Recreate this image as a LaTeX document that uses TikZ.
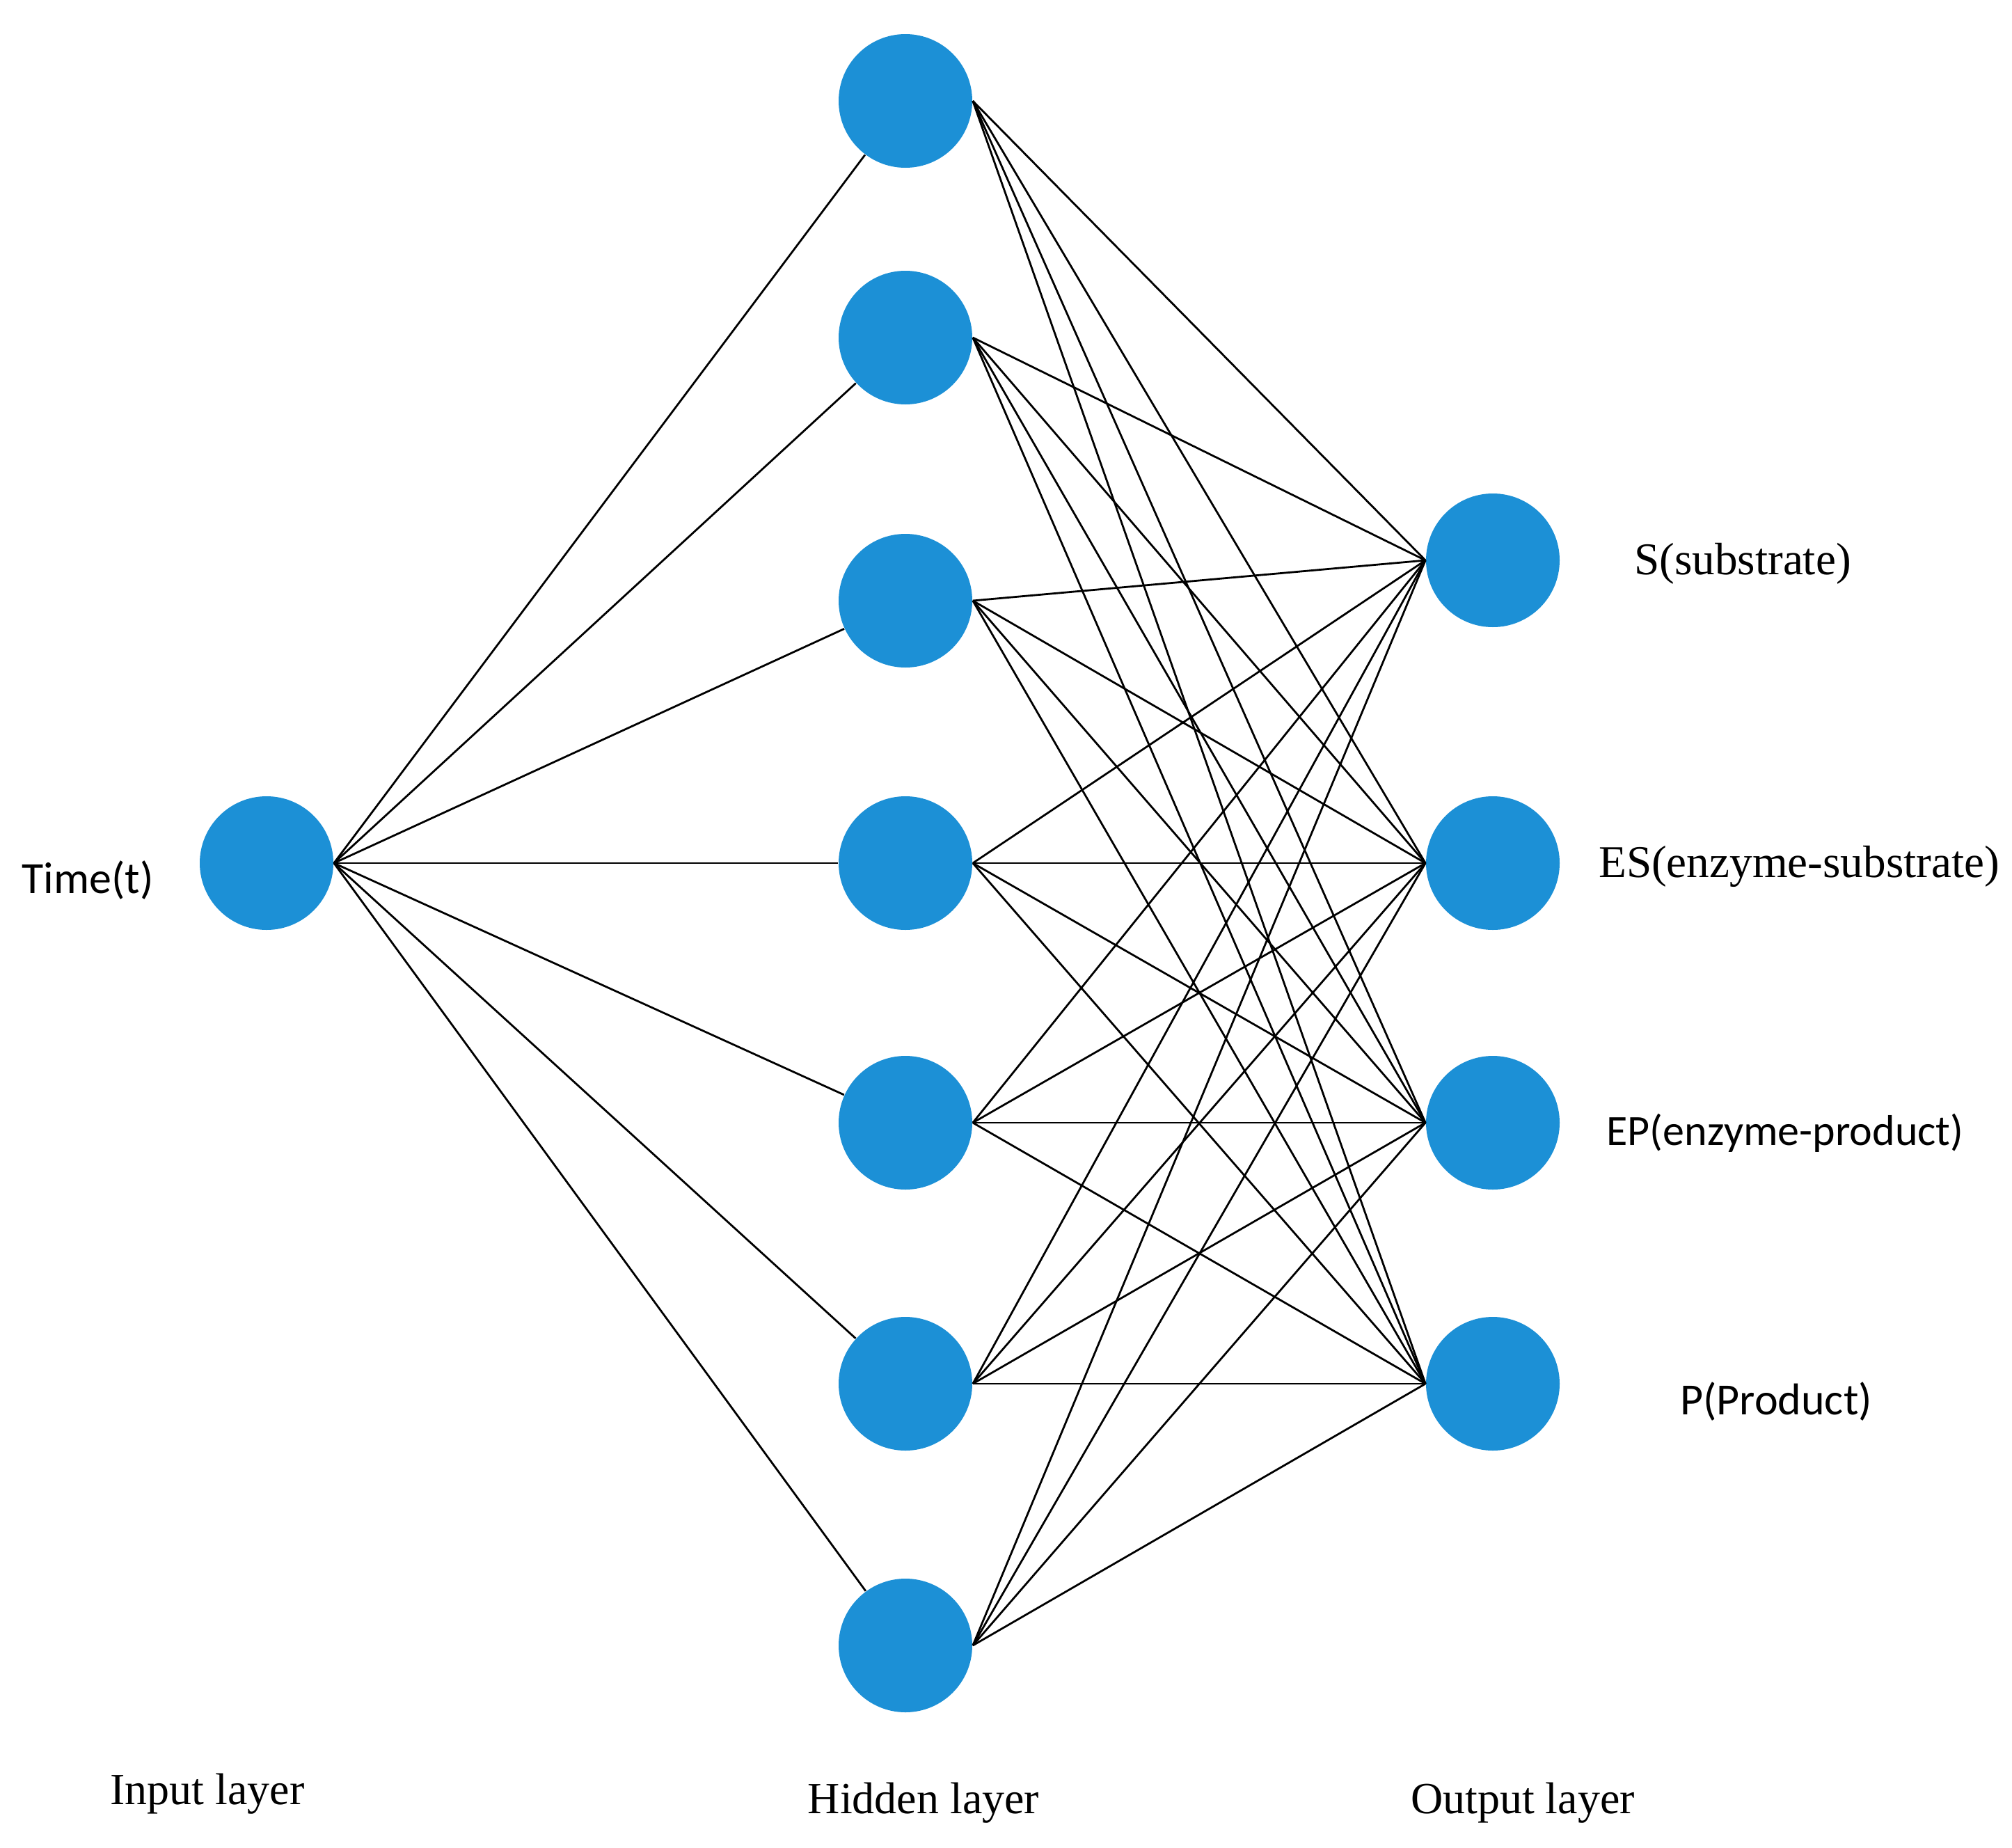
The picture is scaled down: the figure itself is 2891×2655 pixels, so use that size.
\documentclass[tikz,border=0pt]{standalone}
\usepackage{fontspec}
\setmainfont{Liberation Serif}
\newfontfamily\sansn{Carlito}
\definecolor{neuron}{RGB}{28,144,214}
\tikzset{
  neuronnode/.style={circle, fill=neuron, draw=none, minimum size=48pt, inner sep=0pt},
  conn/.style={draw=black, line width=0.7pt},
  lbl/.style={anchor=base, inner sep=0pt, text=black},
}
\begin{document}
\begin{tikzpicture}[x=0.25pt, y=-0.25pt]
\useasboundingbox[fill=white] (0,0) rectangle (2891,2655);
% input
\node[neuronnode] (in) at (383,1240) {};
% hidden
\node[neuronnode] (h1) at (1301,145) {};
\node[neuronnode] (h2) at (1301,485) {};
\node[neuronnode] (h3) at (1301,863) {};
\node[neuronnode] (h4) at (1301,1240) {};
\node[neuronnode] (h5) at (1301,1613) {};
\node[neuronnode] (h6) at (1301,1988) {};
\node[neuronnode] (h7) at (1301,2364) {};
% output
\node[neuronnode] (o1) at (2145,805) {};
\node[neuronnode] (o2) at (2145,1240) {};
\node[neuronnode] (o3) at (2145,1613) {};
\node[neuronnode] (o4) at (2145,1988) {};
% connections
\foreach \h in {1,...,7} {
  \draw[conn] (in.east) -- (h\h);
  \foreach \o in {1,...,4} {
    \draw[conn] (h\h.east) -- (o\o.west);
  }
}
% labels
\node[lbl, font=\sansn\fontsize{16pt}{19pt}\selectfont] (tlab) at (126,1283) {Time(t)};
\node[lbl, font=\fontsize{16.3pt}{20pt}\selectfont] (slab) at (2504,825) {S(substrate)};
\node[lbl, font=\fontsize{16.3pt}{20pt}\selectfont] (eslab) at (2585,1260) {ES(enzyme-substrate)};
\node[lbl, font=\sansn\fontsize{15.5pt}{19pt}\selectfont] (eplab) at (2565,1645) {EP(enzyme-product)};
\node[lbl, font=\sansn\fontsize{16pt}{19pt}\selectfont] (plab) at (2552,2032) {P(Product)};
\node[lbl, font=\fontsize{16pt}{19pt}\selectfont] (inlab) at (298,2592) {Input layer};
\node[lbl, font=\fontsize{16pt}{19pt}\selectfont] (hidlab) at (1327,2605) {Hidden layer};
\node[lbl, font=\fontsize{16pt}{19pt}\selectfont] (outlab) at (2188,2605) {Output layer};
\end{tikzpicture}
\end{document}
